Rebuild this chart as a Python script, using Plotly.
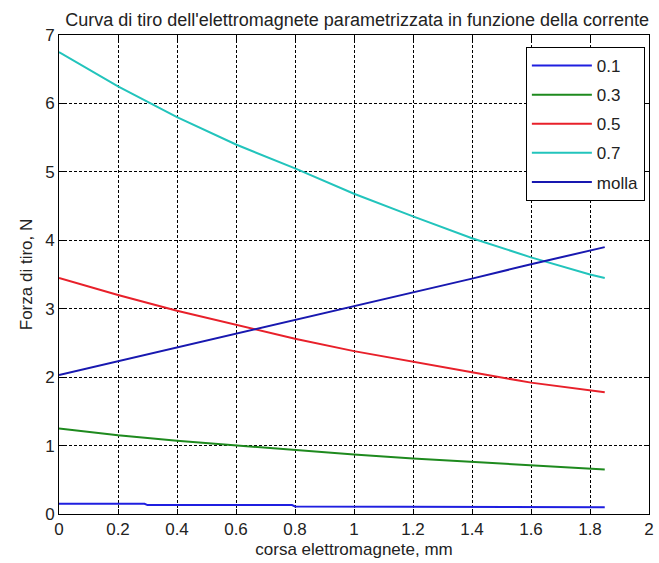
import plotly.graph_objects as go

# x positions (mm)
x = [0, 0.2, 0.4, 0.6, 0.8, 1.0, 1.2, 1.4, 1.6, 1.8, 1.85]

y03 = [1.25, 1.15, 1.07, 1.00, 0.93, 0.87, 0.81, 0.76, 0.71, 0.66, 0.65]
y05 = [3.45, 3.20, 2.97, 2.76, 2.56, 2.38, 2.22, 2.07, 1.92, 1.80, 1.78]
y07 = [6.75, 6.25, 5.80, 5.40, 5.05, 4.68, 4.35, 4.03, 3.75, 3.50, 3.45]
molla = [2.03, 2.23, 2.43, 2.64, 2.84, 3.04, 3.24, 3.44, 3.65, 3.85, 3.90]

# step-like 0.1 curve
x01 = [0, 0.29, 0.30, 0.79, 0.80, 1.39, 1.40, 1.85]
v01 = [0.15, 0.15, 0.13, 0.13, 0.11, 0.11, 0.10, 0.10]

series = [
    ("0.1", x01, v01, "#1f1fe0"),
    ("0.3", x, y03, "#1e8a1e"),
    ("0.5", x, y05, "#e8202a"),
    ("0.7", x, y07, "#22c4bc"),
    ("molla", x, molla, "#1818b0"),
]

fig = go.Figure()
for i, (name, xs, ys, col) in enumerate(series):
    fig.add_trace(go.Scatter(x=xs, y=ys, mode="lines", name=name,
                             line=dict(color=col, width=2),
                             legendgroup=str(i)))

font = "Liberation Sans Narrow, Arial Narrow, Liberation Sans, Arial"
axis_common = dict(showline=True, linecolor="black", linewidth=1, mirror="ticks",
                   ticks="inside", ticklen=5, tickcolor="black",
                   showgrid=True, gridcolor="black", gridwidth=1, griddash="3px,2px",
                   zeroline=False, tickfont=dict(size=17, color="#222", family=font))

fig.update_layout(
    width=659, height=563,
    margin=dict(l=59, r=5, t=35, b=49),
    paper_bgcolor="white", plot_bgcolor="white",
    title=dict(text="Curva di tiro dell'elettromagnete parametrizzata in funzione della corrente",
               x=0.542, xanchor="center", y=0.965, yanchor="middle",
               font=dict(size=18, color="#222", family=font)),
    xaxis=dict(range=[0, 2], dtick=0.2, title=dict(text="corsa elettromagnete, mm", standoff=4,
               font=dict(size=17, color="#222", family=font)), **axis_common),
    yaxis=dict(range=[0, 7], dtick=1, title=dict(text="Forza di tiro, N", standoff=8,
               font=dict(size=17, color="#222", family=font)), **axis_common),
    legend=dict(x=0.993, y=0.975, xanchor="right", yanchor="top",
                bgcolor="white", bordercolor="black", borderwidth=1,
                font=dict(size=17, color="#222", family=font),
                tracegroupgap=4, itemwidth=60),
    showlegend=True,
)

fig.write_html("out.html")
